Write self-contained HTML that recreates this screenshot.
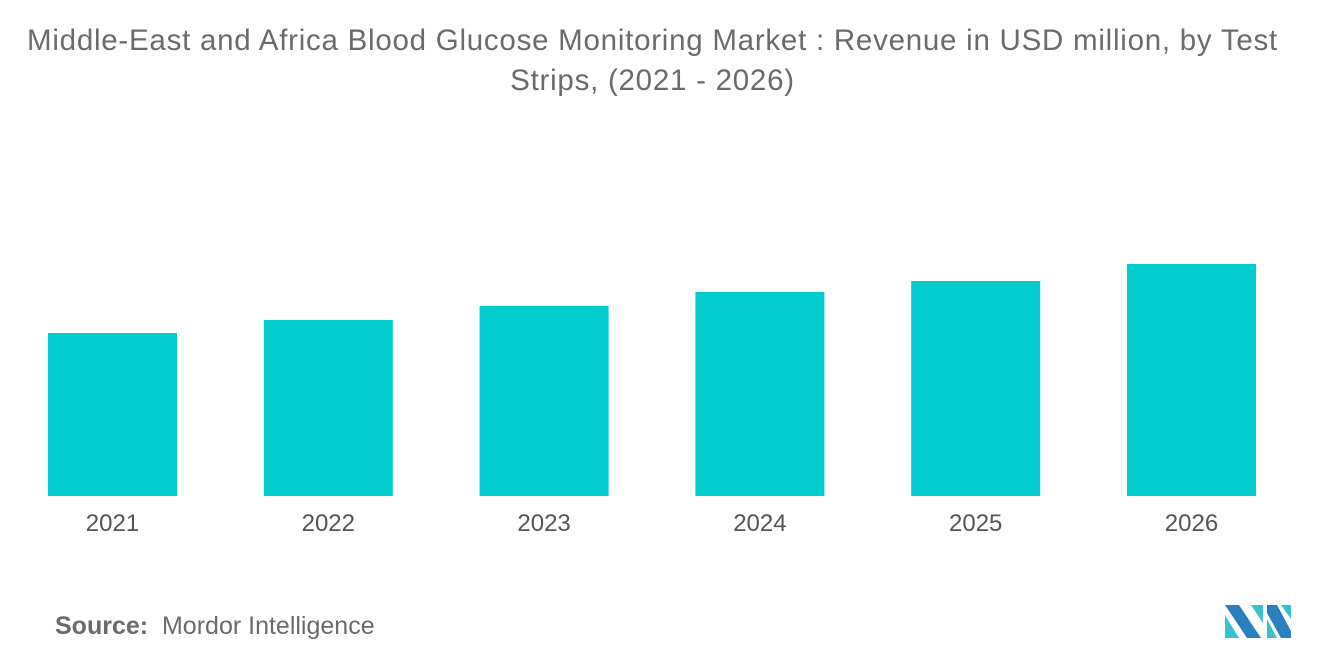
<!DOCTYPE html>
<html><head><meta charset="utf-8"><style>
body{margin:0;width:1320px;height:665px;background:#fff;font-family:"Liberation Sans",sans-serif;overflow:hidden;position:relative}
.title{position:absolute;left:0;width:1305px;top:21px;text-align:center;font-size:29.5px;letter-spacing:0.75px;line-height:40px;color:#6b6b6b;white-space:nowrap}
.src{position:absolute;left:55px;top:612px;font-size:25px;color:#6b6b6b}
</style></head><body>
<div class="title">Middle-East and Africa Blood Glucose Monitoring Market : Revenue in USD million, by Test<br>Strips, (2021 - 2026)</div>
<svg id="chart" width="1320" height="665" style="position:absolute;left:0;top:0"></svg>
<div class="src"><b style="font-weight:600">Source:</b>&nbsp; Mordor Intelligence</div>
<svg style="position:absolute;left:1225px;top:605px" width="66" height="33">
<polygon points="0,0 14,0 36,33 22,33" fill="#2b7fbf"/>
<polygon points="0,10 14,33 0,33" fill="#37c2cf"/>
<polygon points="26,0 38,0 38,18" fill="#37c2cf"/>
<polygon points="42,0 52,0 66,26 66,33 56,33 42,8" fill="#2b7fbf"/>
<polygon points="42,14 52,33 42,33" fill="#37c2cf"/>
<polygon points="56,0 66,0 66,14" fill="#37c2cf"/>
</svg>
<script>
const categories=["2021","2022","2023","2024","2025","2026"];
const values=[163,176,190,204,215,232];
const svg=document.getElementById('chart');
const NS='http://www.w3.org/2000/svg';
const baseY=496, left=48, step=215.8, barW=129;
const yScale=v=>baseY-v*1.0;
const xScale=i=>left+i*step;
values.forEach((v,i)=>{
 const r=document.createElementNS(NS,'rect');
 r.setAttribute('x',xScale(i));r.setAttribute('y',yScale(v));
 r.setAttribute('width',barW);r.setAttribute('height',baseY-yScale(v));
 r.setAttribute('fill','#00cccd');
 
 
 svg.appendChild(r);
 const t=document.createElementNS(NS,'text');
 t.setAttribute('x',xScale(i)+barW/2);t.setAttribute('y',531);
 t.setAttribute('text-anchor','middle');t.setAttribute('font-size','24');
 t.setAttribute('fill','#555');t.setAttribute('font-family','Liberation Sans, sans-serif');
 t.textContent=categories[i];
 
 
 svg.appendChild(t);
});
</script>
</body></html>
